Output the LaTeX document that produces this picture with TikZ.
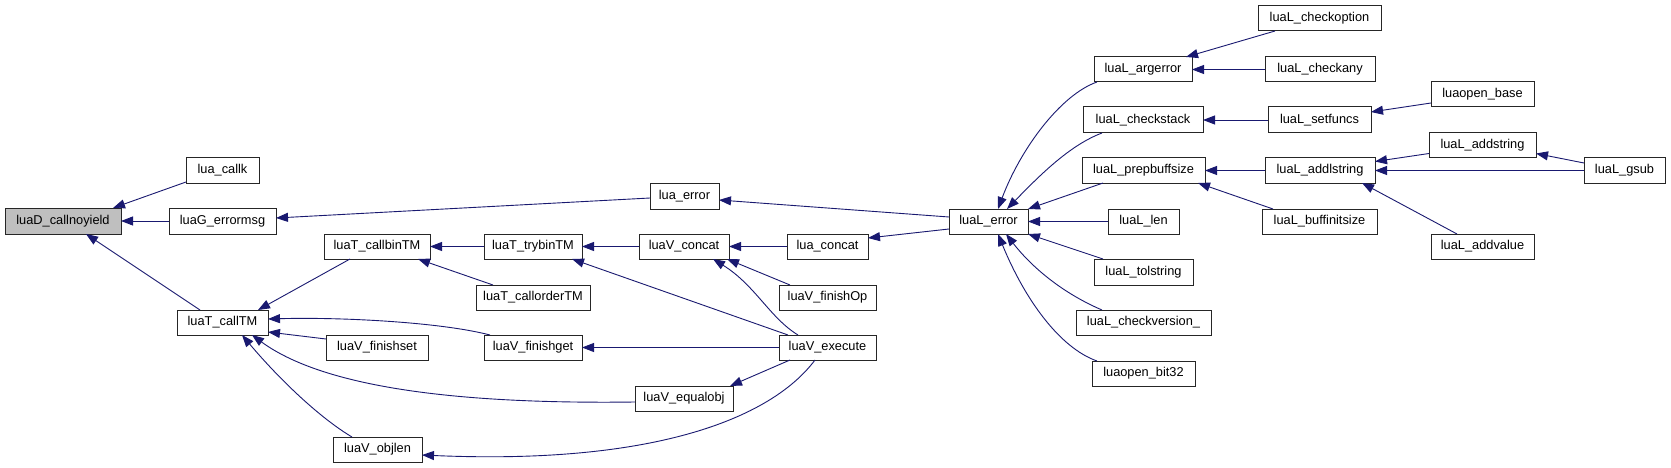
\documentclass[tikz,border=0pt]{standalone}
\usepackage{fontspec}
\setmainfont{Liberation Sans}
\usetikzlibrary{arrows.meta,calc}
\definecolor{edgecol}{HTML}{191970}
\definecolor{boxgray}{HTML}{BFBFBF}
\tikzset{
  box/.style={draw=black!85, line width=1pt, fill=white, rectangle, inner sep=0pt, outer sep=0pt,
    font=\fontsize{12.8}{15}\selectfont},
  edge/.style={draw=edgecol, line width=0.9pt, -{Triangle[length=12pt,width=9pt]}}
}
\newcommand{\nd}[7][]{\node[box,#1,minimum width={(#5-#3)*1pt},minimum height={(#6-#4)*1pt}] (#2) at ({(#3+#5)/2},{(#4+#6)/2}) {#7};}
\begin{document}
\begin{tikzpicture}[x=1pt,y=-1pt]
\useasboundingbox[fill=white] (0,0) rectangle (1671,468);
\nd[fill=boxgray]{cny}{5}{208}{121}{234}{luaD\_callnoyield}
\nd{callk}{186}{158}{259}{183}{lua\_callk}
\nd{errmsg}{169}{208}{276}{234}{luaG\_errormsg}
\nd{callTM}{177}{310}{268}{335}{luaT\_callTM}
\nd{callbin}{324}{234}{430}{259}{luaT\_callbinTM}
\nd{finishset}{326}{335}{428}{360}{luaV\_finishset}
\nd{objlen}{333}{437}{422}{462}{luaV\_objlen}
\nd{trybin}{484}{234}{582}{259}{luaT\_trybinTM}
\nd{callorder}{476}{285}{590}{310}{luaT\_callorderTM}
\nd{finishget}{484}{335}{582}{360}{luaV\_finishget}
\nd{luaerror}{650}{183}{719}{209}{lua\_error}
\nd{vconcat}{639}{234}{729}{259}{luaV\_concat}
\nd{luaconcat}{787}{234}{868}{259}{lua\_concat}
\nd{finishOp}{779}{285}{876}{310}{luaV\_finishOp}
\nd{execute}{779}{335}{876}{360}{luaV\_execute}
\nd{equalobj}{635}{386}{733}{411}{luaV\_equalobj}
\nd{Lerror}{949}{209}{1028}{234}{luaL\_error}
\nd{argerror}{1094}{57}{1192}{82}{luaL\_argerror}
\nd{checkstack}{1083}{107}{1203}{133}{luaL\_checkstack}
\nd{prepbuf}{1082}{158}{1205}{183}{luaL\_prepbuffsize}
\nd{Llen}{1108}{209}{1179}{234}{luaL\_len}
\nd{tolstring}{1094}{259}{1193}{285}{luaL\_tolstring}
\nd{checkversion}{1076}{310}{1211}{335}{luaL\_checkversion\_}
\nd{bit32}{1092}{361}{1195}{386}{luaopen\_bit32}
\nd{checkoption}{1258}{6}{1381}{31}{luaL\_checkoption}
\nd{checkany}{1265}{57}{1375}{82}{luaL\_checkany}
\nd{setfuncs}{1268}{107}{1371}{133}{luaL\_setfuncs}
\nd{addlstring}{1265}{158}{1375}{183}{luaL\_addlstring}
\nd{buffinit}{1262}{209}{1377}{234}{luaL\_buffinitsize}
\nd{openbase}{1431}{82}{1534}{107}{luaopen\_base}
\nd{addstring}{1429}{133}{1536}{158}{luaL\_addstring}
\nd{gsub}{1584}{158}{1665}{183}{luaL\_gsub}
\nd{addvalue}{1431}{234}{1534}{259}{luaL\_addvalue}

% edges (caller -> callee)
\draw[edge] ($(callk.south west)+(0,-1)$) -- ($(cny.north east)+(-8,0)$);
\draw[edge] (errmsg.west) -- (cny.east);
\draw[edge] ($(callTM.north west)+(23,0)$) -- ($(cny.south east)+(-35,0)$);
\draw[edge] ($(luaerror.west)+(0,2)$) -- ($(errmsg.east)+(0,-3)$);
\draw[edge] ($(Lerror.west)+(0,-4.5)$) -- ($(luaerror.east)+(0,4)$);
\draw[edge] ($(Lerror.west)+(0,7.5)$) -- ($(luaconcat.east)+(0,-8.5)$);
\draw[edge] ($(callbin.south west)+(26,0)$) -- ($(callTM.north east)+(-10,0)$);
\draw[edge] (trybin.west) -- (callbin.east);
\draw[edge] ($(callorder.north west)+(17,0)$) -- ($(callbin.south east)+(-12,0)$);
\draw[edge] (vconcat.west) -- (trybin.east);
\draw[edge] ($(execute.north west)+(9,0)$) -- ($(trybin.south east)+(-10,0)$);
\draw[edge] (luaconcat.west) -- (vconcat.east);
\draw[edge] ($(finishOp.north west)+(11,0)$) -- ($(vconcat.south east)+(-2,0)$);
\draw[edge] ($(execute.north west)+(19,0)$) .. controls (770,318) and (755,285) .. ($(vconcat.south east)+(-16,0)$);
\draw[edge] ($(finishget.north west)+(6,0)$) .. controls (440,322) and (340,317) .. ($(callTM.east)+(0,-3.5)$);
\draw[edge] ($(finishset.west)+(0,-8.5)$) -- ($(callTM.east)+(0,9.5)$);
\draw[edge] ($(equalobj.west)+(0,3.5)$) .. controls (480,404) and (330,392) .. ($(callTM.south east)+(-16,0)$);
\draw[edge] ($(objlen.north west)+(19,0)$) .. controls (320,418) and (280,380) .. ($(callTM.south west)+(65,0)$);
\draw[edge] (execute.west) -- (finishget.east);
\draw[edge] ($(execute.south west)+(11,0)$) -- ($(equalobj.north east)+(-3,0)$);
\draw[edge] ($(execute.south west)+(36,0)$) .. controls (770,420) and (650,465) .. ($(objlen.east)+(0,5.5)$);
\draw[edge] ($(argerror.south west)+(3,0)$) .. controls (1060,95) and (1020,150) .. ($(Lerror.north west)+(49,0)$);
\draw[edge] ($(checkstack.south west)+(19,0)$) .. controls (1070,145) and (1040,175) .. ($(Lerror.north west)+(58,0)$);
\draw[edge] ($(prepbuf.south west)+(21,0)$) -- (Lerror.north east);
\draw[edge] (Llen.west) -- (Lerror.east);
\draw[edge] ($(tolstring.north west)+(9,0)$) -- (Lerror.south east);
\draw[edge] ($(checkversion.north west)+(26,0)$) .. controls (1060,292) and (1030,265) .. ($(Lerror.south west)+(57,0)$);
\draw[edge] ($(bit32.north west)+(5,0)$) .. controls (1060,348) and (1025,300) .. ($(Lerror.south west)+(49,0)$);
\draw[edge] ($(checkoption.south west)+(17,0)$) -- ($(argerror.north east)+(-6,0)$);
\draw[edge] (checkany.west) -- (argerror.east);
\draw[edge] (setfuncs.west) -- (checkstack.east);
\draw[edge] (addlstring.west) -- (prepbuf.east);
\draw[edge] ($(buffinit.north west)+(11,0)$) -- ($(prepbuf.south east)+(-7,0)$);
\draw[edge] ($(openbase.west)+(0,8.5)$) -- ($(setfuncs.east)+(0,-8)$);
\draw[edge] ($(addstring.west)+(0,8)$) -- ($(addlstring.east)+(0,-9)$);
\draw[edge] (gsub.west) -- (addlstring.east);
\draw[edge] ($(addvalue.north west)+(26,0)$) -- ($(addlstring.south east)+(-13,0)$);
\draw[edge] ($(gsub.west)+(0,-7.5)$) -- ($(addstring.east)+(0,8)$);
\end{tikzpicture}
\end{document}
